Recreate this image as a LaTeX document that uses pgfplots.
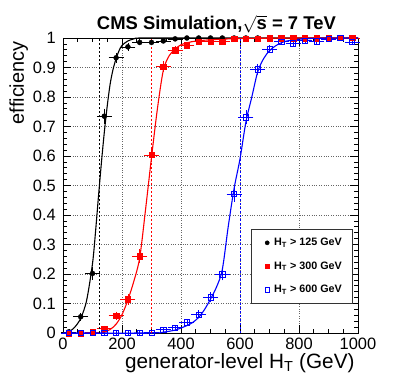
\documentclass[border=0pt]{standalone}
\usepackage{fontspec}
\setmainfont{Liberation Sans}
\usepackage{pgfplots}
\pgfplotsset{compat=1.18}

\definecolor{rootred}{RGB}{255,0,0}
\definecolor{rootblue}{RGB}{0,0,255}

\pgfplotsset{
  dotleg/.style={legend image code/.code={%
    \path[draw=none, fill=none] (-8bp,0bp) -- (5bp,0bp);
    \draw[##1] plot coordinates {(0bp,0bp)};}},
  eff/.style={
    /pgfplots/error bars/x dir=both, /pgfplots/error bars/x explicit,
    /pgfplots/error bars/y dir=both, /pgfplots/error bars/y explicit,
    /pgfplots/error bars/error bar style={line width=0.6bp},
    /pgfplots/error bars/error mark options={mark size=1.6bp, line width=0.6bp},
  },
}

\begin{document}
\begin{tikzpicture}
\begin{axis}[
  scale only axis,
  width=295bp, height=295bp,
  xmin=0, xmax=1000, ymin=0, ymax=1,
  clip=false,
  axis line style={black, line width=0.8bp},
  xtick={0,200,...,1000},
  xticklabels={0,200,400,600,800,1000},
  minor x tick num=3,
  ytick={0,0.1,0.2,0.3,0.4,0.5,0.6,0.7,0.8,0.9,1},
  yticklabels={0,0.1,0.2,0.3,0.4,0.5,0.6,0.7,0.8,0.9,1},
  minor y tick num=4,
  tick align=inside,
  tick pos=both,
  ticklabel pos=left,
  major tick length=8bp,
  minor tick length=4bp,
  tick style={black, line width=0.6bp},
  grid=major,
  grid style={black!60, dotted, line width=0.6bp},
  /pgf/number format/assume math mode=true,
  tick label style={font=\fontsize{16.5}{18}\selectfont},
  xticklabel style={anchor=north, inner sep=0pt, yshift=-5bp},
  yticklabel style={anchor=east, inner sep=0pt, xshift=-7bp},
  legend style={
    at={(0.98,0.3525)}, anchor=north east,
    draw=black!80, line width=0.6bp, fill=white,
    font=\fontsize{10.8}{12}\selectfont\bfseries,
    inner xsep=8bp, inner ysep=7bp, row sep=10.5bp,
  },
  legend cell align=left,
]

% ---- data points (bin centres, +-20 GeV bin half width) ----
\addplot[black, only marks, mark=*, mark size=2.5bp, eff, forget plot]
  coordinates {
    (20,0.004)  +- (20,0.003)
    (60,0.055)  +- (20,0.008)
    (100,0.202) +- (20,0.016)
    (140,0.735) +- (20,0.02)
    (180,0.933) +- (20,0.011)
    (220,0.970) +- (20,0.007)
    (260,0.985) +- (20,0.005)
    (300,0.985) +- (20,0.004)
    (340,0.990) +- (20,0.003)
    (380,0.997) +- (20,0.002)
    (420,1.0) +- (20,0.001)
    (460,1.0) +- (20,0.001)
    (500,1.0) +- (20,0.001)
    (540,1.0) +- (20,0.001)
    (580,1.0) +- (20,0.001)
    (620,1.0) +- (20,0.001)
    (660,1.0) +- (20,0.001)
    (700,1.0) +- (20,0.001)
    (740,1.0) +- (20,0.001)
    (780,1.0) +- (20,0.001)
    (820,1.0) +- (20,0.001)
    (860,1.0) +- (20,0.001)
    (900,1.0) +- (20,0.001)
    (940,1.0) +- (20,0.001)
    (980,1.0) +- (20,0.001)
  };

\addplot[rootred, only marks, mark=square*, mark size=2.7bp, eff, forget plot]
  coordinates {
    (20,0.0)    +- (20,0.001)
    (60,0.0)    +- (20,0.001)
    (100,0.004) +- (20,0.002)
    (140,0.015) +- (20,0.004)
    (180,0.059) +- (20,0.008)
    (220,0.114) +- (20,0.012)
    (260,0.260) +- (20,0.018)
    (300,0.604) +- (20,0.02)
    (340,0.903) +- (20,0.012)
    (380,0.959) +- (20,0.008)
    (420,0.976) +- (20,0.006)
    (460,0.988) +- (20,0.004)
    (500,0.988) +- (20,0.004)
    (540,0.988) +- (20,0.004)
    (580,0.998) +- (20,0.002)
    (620,0.998) +- (20,0.002)
    (660,0.998) +- (20,0.002)
    (700,0.999) +- (20,0.001)
    (740,0.999) +- (20,0.001)
    (780,0.999) +- (20,0.001)
    (820,0.999) +- (20,0.001)
    (860,0.999) +- (20,0.001)
    (900,0.999) +- (20,0.001)
    (940,1.0) +- (20,0.001)
    (980,1.0) +- (20,0.001)
  };

\addplot[rootblue, only marks, mark=square, mark size=2.6bp, mark options={line width=0.6bp}, eff, forget plot]
  coordinates {
    (20,0.0)    +- (20,0.001)
    (60,0.0)    +- (20,0.001)
    (100,0.0)   +- (20,0.001)
    (140,0.0)   +- (20,0.001)
    (180,0.0)   +- (20,0.001)
    (220,0.0)   +- (20,0.001)
    (260,0.0)   +- (20,0.001)
    (300,0.002) +- (20,0.001)
    (340,0.011) +- (20,0.003)
    (380,0.018) +- (20,0.004)
    (420,0.036) +- (20,0.006)
    (460,0.063) +- (20,0.008)
    (500,0.121) +- (20,0.012)
    (540,0.199) +- (20,0.015)
    (580,0.471) +- (20,0.02)
    (620,0.731) +- (20,0.018)
    (660,0.894) +- (20,0.013)
    (700,0.962) +- (20,0.008)
    (740,0.988) +- (20,0.005)
    (780,0.982) +- (20,0.005)
    (820,0.991) +- (20,0.004)
    (860,0.989) +- (20,0.004)
    (900,0.997) +- (20,0.002)
    (940,1.0)   +- (20,0.001)
    (980,0.986) +- (20,0.004)
  };

% ---- fitted turn-on curves ----
\addplot[black, line width=1.1bp, smooth, forget plot] coordinates {
  (20,0.003) (40,0.02) (60,0.05) (80,0.11) (100,0.235) (110,0.34)
  (120,0.46) (130,0.575) (140,0.68) (150,0.77) (160,0.845) (170,0.895)
  (180,0.93) (190,0.957) (200,0.975) (220,0.99) (240,0.997) (260,1.0)
  (400,1.0) (1000,1.0)
};
\addplot[rootred, line width=1.1bp, smooth, forget plot] coordinates {
  (130,0.0) (140,0.003) (160,0.012) (180,0.03) (200,0.062) (220,0.112)
  (240,0.175) (260,0.255) (280,0.42) (300,0.595) (320,0.76) (340,0.89)
  (360,0.94) (380,0.962) (400,0.977) (440,0.988) (500,0.994) (600,0.998)
  (800,1.0) (1000,1.0)
};
\addplot[rootblue, line width=1.1bp, smooth, forget plot] coordinates {
  (0,0.0) (300,0.0) (340,0.003) (380,0.01) (420,0.025) (440,0.036)
  (460,0.053) (480,0.08) (500,0.115) (520,0.155) (540,0.215) (560,0.36)
  (580,0.49) (600,0.59) (620,0.715) (640,0.80) (660,0.885) (680,0.93)
  (700,0.957) (720,0.973) (740,0.984) (760,0.99) (800,0.996) (860,0.999)
  (1000,1.0)
};

% ---- trigger thresholds ----
\addplot[black, line width=0.8bp, dash pattern=on 2bp off 2bp, forget plot] coordinates {(125,0) (125,1)};
\addplot[rootred, line width=0.8bp, dash pattern=on 2bp off 2bp, forget plot] coordinates {(300,0) (300,1)};
\addplot[rootblue, line width=0.8bp, dash pattern=on 2bp off 2bp, forget plot] coordinates {(600,0) (600,1)};

% ---- legend ----
\addlegendimage{black, only marks, mark=*, mark size=2bp, dotleg}
\addlegendentry{H\textsubscript{T} > 125 GeV}
\addlegendimage{rootred, only marks, mark=square*, mark size=2bp, dotleg}
\addlegendentry{H\textsubscript{T} > 300 GeV}
\addlegendimage{rootblue, only marks, mark=square, mark size=2.2bp, mark options={line width=0.6bp}, dotleg}
\addlegendentry{H\textsubscript{T} > 600 GeV}

% ---- title and axis labels ----
\node[anchor=base, font=\fontsize{18.5}{20}\selectfont\bfseries]
  at (rel axis cs:0.52,1) [yshift=8bp] {CMS Simulation,$\sqrt{\mbox{s}}$ = 7 TeV};
\node[anchor=base east, font=\fontsize{20.8}{22}\selectfont]
  at (rel axis cs:1,0) [yshift=-35bp] {generator-level H\textsubscript{T} (GeV)};
\node[xshift=-39bp, rotate=90, anchor=base east, font=\fontsize{20}{22}\selectfont]
  at (rel axis cs:0,1) {efficiency};
\end{axis}
\pgfresetboundingbox
\path[use as bounding box] (-63bp,-50bp) rectangle (336bp,333bp);
\end{tikzpicture}
\end{document}
